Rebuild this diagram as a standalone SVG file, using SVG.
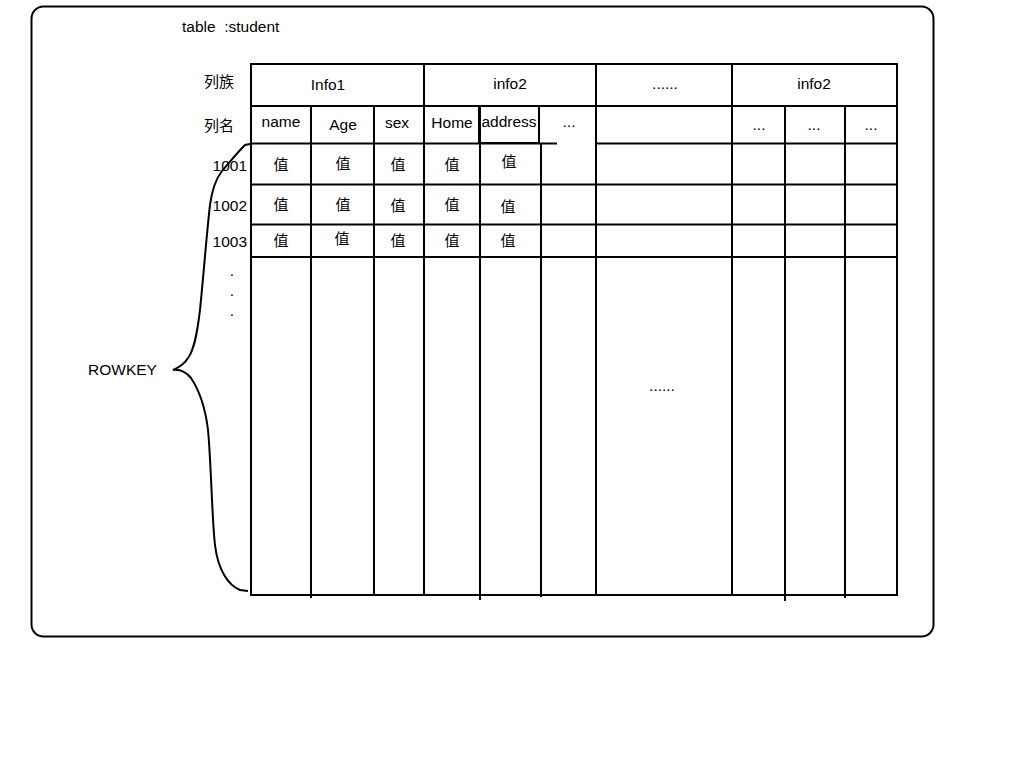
<svg xmlns="http://www.w3.org/2000/svg" width="1024" height="768" viewBox="0 0 1024 768">
<style>
.t{font-family:"Liberation Sans","Noto Sans CJK SC",Arial,sans-serif;font-size:15.5px;fill:#000}
.c{font-size:15px}
.m{text-anchor:middle}
.e{text-anchor:end}
.ln{stroke:#000;stroke-width:2;fill:none}
</style>
<rect width="1024" height="768" fill="#fff"/>
<g id="table-frame">
<rect class="ln" x="31.5" y="6.5" width="902" height="630" rx="12" ry="12"/>
<text class="t" x="182" y="32" xml:space="preserve" style="white-space:pre">table  :student</text>
</g>
<g id="grid">
<rect x="251" y="64" width="646" height="531" class="ln"/>
<path class="ln" d="M251 106H897 M251 143.5H557 M596 143.5H897 M251 184.5H897 M251 224.5H897 M251 257H897"/>
<path class="ln" d="M424 64V595 M596 64V595 M732 64V595 M311 106V598 M374 106V595 M480 106V600 M541 144V597 M785 106V601 M845 106V598"/>
<rect class="ln" x="479" y="106" width="60" height="37"/>
</g>
<g id="row-headers">
<text class="t c" x="204" y="87">列族</text>
<text class="t c" x="204" y="131">列名</text>
<text class="t e" x="247" y="171">1001</text>
<text class="t e" x="247" y="211">1002</text>
<text class="t e" x="247" y="247">1003</text>
<text class="t m" x="232" y="276">.</text>
<text class="t m" x="232" y="296">.</text>
<text class="t m" x="232" y="316">.</text>
</g>
<g id="families">
<text class="t m" x="328" y="90">Info1</text>
<text class="t m" x="510" y="89">info2</text>
<text class="t m" x="665" y="89">......</text>
<text class="t m" x="814" y="89">info2</text>
</g>
<g id="qualifiers">
<text class="t m" x="281" y="127">name</text>
<text class="t m" x="343" y="130">Age</text>
<text class="t m" x="397" y="128">sex</text>
<text class="t m" x="452" y="128">Home</text>
<text class="t m" x="509" y="127">address</text>
<text class="t m" x="569" y="127">...</text>
<text class="t m" x="759" y="130">...</text>
<text class="t m" x="814" y="130">...</text>
<text class="t m" x="871" y="130">...</text>
</g>
<g id="values">
<text class="t c m" x="281" y="170">值</text>
<text class="t c m" x="343" y="169">值</text>
<text class="t c m" x="398" y="170">值</text>
<text class="t c m" x="452" y="170">值</text>
<text class="t c m" x="509" y="167">值</text>
<text class="t c m" x="281" y="210">值</text>
<text class="t c m" x="343" y="210">值</text>
<text class="t c m" x="398" y="211">值</text>
<text class="t c m" x="452" y="210">值</text>
<text class="t c m" x="508" y="212">值</text>
<text class="t c m" x="281" y="246">值</text>
<text class="t c m" x="342" y="244">值</text>
<text class="t c m" x="398" y="246">值</text>
<text class="t c m" x="452" y="246">值</text>
<text class="t c m" x="508" y="246">值</text>
<text class="t m" x="662" y="391">......</text>
</g>
<g id="rowkey">
<text class="t" x="88" y="375">ROWKEY</text>
</g>
<g id="connectors">
<path id="rowkey-brace" class="ln" stroke-width="2.5" d="M250 144 L245 145 C236 154 229 163 222 171 C215 180 212 190 210 205 C207 230 204 270 200 310 C197 335 194 350 188 358 C185 363 180 367 173 370 C180 369 186 372 191 378 C199 390 205 405 208 430 C211 460 212 520 215 545 C218 570 228 585 240 590 L248 591"/>
</g>
</svg>
